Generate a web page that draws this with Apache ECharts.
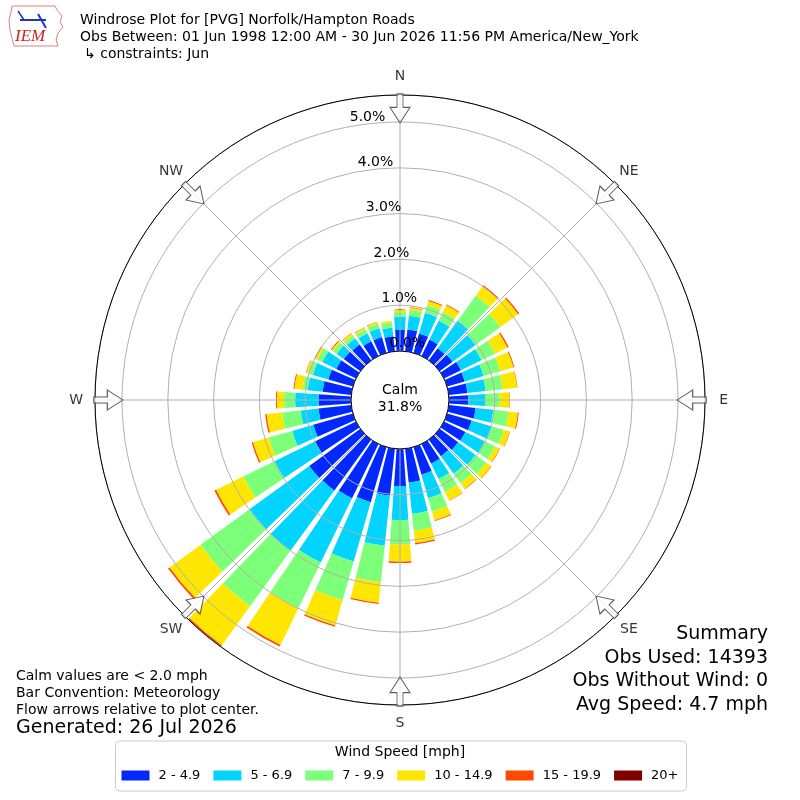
<!DOCTYPE html>
<html>
<head>
<meta charset="utf-8">
<script src="https://cdn.jsdelivr.net/npm/echarts@6/dist/echarts.min.js"></script>
<style>
html, body { margin: 0; padding: 0; background: #fff; }
#chart { width: 800px; height: 800px; }
</style>
</head>
<body>
<div id="chart"></div>
<script>
// wind direction bins (bar centre, degrees from north)
var directions = [0, 10, 20, 30, 40, 50, 60, 70, 80, 90, 100, 110, 120, 130, 140, 150, 160, 170,
  180, 190, 200, 210, 220, 230, 240, 250, 260, 270, 280, 290, 300, 310, 320, 330, 340, 350];

var speedBins = ['2 - 4.9', '5 - 6.9', '7 - 9.9', '10 - 14.9', '15 - 19.9', '20+'];
var binColors = ['#0028ff', '#00d4ff', '#7cff79', '#ffe600', '#ff4a00', '#800000'];

var spd2to5 = [.46, .48, .44, .40, .33, .35, .41, .40, .41, .42, .59, .56, .52, .50, .45, .48, .63, .74,
  .81, 1.03, 1.25, 1.32, 1.37, 1.38, 1.00, .90, .72, .71, .63, .56, .48, .45, .43, .36, .36, .33];
var spd5to7 = [.29, .30, .47, .46, .74, .62, .50, .43, .40, .37, .39, .46, .47, .47, .47, .37, .53, .69,
  .74, 1.10, 1.35, 1.56, 1.63, 1.61, .98, .48, .39, .51, .33, .35, .34, .19, .17, .19, .20, .19];
var spd7to10 = [.10, .13, .17, .21, .68, .67, .33, .38, .37, .32, .33, .27, .25, .29, .26, .31, .31, .37,
  .53, .80, .88, 1.11, 1.50, 1.33, .76, .53, .41, .24, .11, .11, .12, .10, .08, .10, .10, .11];
var spd10to15 = [.05, .05, .10, .16, .25, .48, .30, .30, .32, .21, .21, .13, .11, .13, .15, .21, .19, .27,
  .38, .45, .57, .89, 1.05, .83, .66, .36, .34, .16, .18, .04, .05, .04, .05, .04, .04, .04];
var spd15to20 = [0, .01, .02, .02, .03, .03, .03, .02, .01, .01, .02, .01, .01, .01, .01, .01, .02, .03,
  .03, .03, .03, .04, .04, .04, .04, .03, .03, .02, .02, .01, .02, .02, .01, .01, .01, 0];
var spd20up = [0, 0, 0, 0, 0, 0, 0, 0, 0, 0, 0, 0, 0, 0, 0, 0, 0, 0,
  0, 0, 0, 0, 0, 0, 0, 0, 0, 0, 0, 0, 0, 0, 0, 0, 0, 0];
var binValues = [spd2to5, spd5to7, spd7to10, spd10to15, spd15to20, spd20up];

var compassTicks = [0, 45, 90, 135, 180, 225, 270, 315];
var compassLabels = ['N', 'NE', 'E', 'SE', 'S', 'SW', 'W', 'NW'];
var calmPct = 31.8;
var rMax = 5.59;      // outer ring, percent
var arrowR = 5.3;     // where the flow arrows sit
var labelR = 6.0;     // compass letters, just outside the ring

var FONT = 'DejaVu Sans';
var CENTER = ['50%', '50%'];
var RADIUS = [49, 305];
var ARROW = 'path://M7,0 L13,0 L13,14 L20,14 L10,30 L0,14 L7,14 Z';

var chart = echarts.init(document.getElementById('chart'), null, { renderer: 'canvas' });

var series = speedBins.map(function (name, i) {
  return {
    type: 'bar', name: name, coordinateSystem: 'polar', polarIndex: 0,
    stack: 'wind', data: binValues[i], barCategoryGap: '20%',
    itemStyle: { color: binColors[i] }, z: 2, silent: true
  };
});
// flow arrows
series.push({
  type: 'scatter', coordinateSystem: 'polar', polarIndex: 1, z: 10, silent: true,
  symbol: ARROW, symbolSize: [20, 29],
  itemStyle: { color: '#fff', borderColor: '#333', borderWidth: 1 },
  data: compassTicks.map(function (a) { return { value: [arrowR, a], symbolRotate: -a }; })
});
// compass letters
series.push({
  type: 'scatter', coordinateSystem: 'polar', polarIndex: 1, z: 10, silent: true, clip: false,
  symbolSize: 1, itemStyle: { color: 'rgba(0,0,0,0)' },
  label: {
    show: true, position: 'inside', color: '#000', fontSize: 14, fontFamily: FONT,
    formatter: function (p) { return p.name; }
  },
  data: compassTicks.map(function (a, i) { return { name: compassLabels[i], value: [labelR, a] }; })
});

function txt(text, pos, size) {
  var el = { type: 'text', z: 20, style: { text: text, fill: '#000', font: size + 'px "' + FONT + '"' } };
  for (var k in pos) el[k] = pos[k];
  return el;
}

var option = {
  animation: false,
  textStyle: { fontFamily: FONT },
  polar: [
    { center: CENTER, radius: RADIUS },
    { center: CENTER, radius: RADIUS },
    { center: CENTER, radius: RADIUS }
  ],
  angleAxis: [
    { polarIndex: 0, type: 'category', data: directions, startAngle: 95, clockwise: true, show: false },
    {
      polarIndex: 1, type: 'value', min: 0, max: 360, interval: 45, startAngle: 90, clockwise: true, z: 5,
      axisLine: { lineStyle: { color: '#000', width: 1 } },
      axisTick: { show: false },
      axisLabel: { show: false },
      splitLine: { lineStyle: { color: '#b0b0b0', width: 1 } }
    },
    { polarIndex: 2, type: 'value', min: 0, max: 360, startAngle: 100, show: false }
  ],
  radiusAxis: [
    { polarIndex: 0, min: 0, max: rMax, show: false },
    {
      polarIndex: 1, min: 0, max: rMax, interval: 1, z: 5,
      axisLine: { show: false }, axisTick: { show: false }, axisLabel: { show: false },
      splitLine: { lineStyle: { color: '#b0b0b0', width: 1 } }
    },
    {
      polarIndex: 2, min: 0, max: rMax, interval: 1, z: 6,
      axisLine: { show: false }, axisTick: { show: false }, splitLine: { show: false },
      axisLabel: {
        inside: true, margin: 2, align: 'left', verticalAlign: 'bottom', padding: [0, 0, 2, 0],
        fontSize: 14, color: '#000', fontFamily: FONT,
        formatter: function (v) { return Math.abs(v - Math.round(v)) < 1e-6 ? v.toFixed(1) + '%' : ''; }
      }
    }
  ],
  legend: {
    data: speedBins, left: 'center', top: 741, orient: 'horizontal',
    icon: 'rect', itemWidth: 28, itemHeight: 10, itemGap: 13,
    padding: [28, 8, 9, 6], borderColor: '#cccccc', borderWidth: 1, borderRadius: 4,
    backgroundColor: '#fff',
    textStyle: { fontSize: 13, color: '#000', fontFamily: FONT, padding: [0, 0, 0, 4] }
  },
  graphic: [
    // IEM logo
    {
      type: 'polygon', z: 20, silent: true,
      shape: { points: [[12, 6], [55, 6], [57, 10], [62, 16], [60, 22], [63, 27], [58, 33], [56, 40], [58, 46],
        [14, 46], [12, 38], [10, 30], [9, 20], [11, 12]] },
      style: { fill: 'none', stroke: '#e08080', lineWidth: 1 }
    },
    { type: 'line', z: 20, shape: { x1: 20, y1: 20, x2: 46, y2: 20 }, style: { stroke: '#2233cc', lineWidth: 2 } },
    { type: 'line', z: 20, shape: { x1: 18, y1: 11, x2: 24, y2: 20 }, style: { stroke: '#2233cc', lineWidth: 1.5 } },
    { type: 'line', z: 20, shape: { x1: 38, y1: 14, x2: 46, y2: 28 }, style: { stroke: '#2233cc', lineWidth: 2 } },
    { type: 'text', z: 20, left: 15, top: 28, style: { text: 'IEM', fill: '#d42020', font: 'italic 17px "Liberation Serif"' } },
    // header
    txt('Windrose Plot for [PVG] Norfolk/Hampton Roads', { left: 80, top: 13 }, 14),
    txt('Obs Between: 01 Jun 1998 12:00 AM - 30 Jun 2026 11:56 PM America/New_York', { left: 80, top: 30 }, 14),
    txt('\u21b3 constraints: Jun', { left: 84, top: 47 }, 14),
    // calm
    txt('Calm', { left: 'center', top: 383 }, 14),
    txt(calmPct.toFixed(1) + '%', { left: 'center', top: 400 }, 14),
    // notes
    txt('Calm values are < 2.0 mph', { left: 16, top: 669 }, 14),
    txt('Bar Convention: Meteorology', { left: 16, top: 686 }, 14),
    txt('Flow arrows relative to plot center.', { left: 16, top: 703 }, 14),
    txt('Generated: 26 Jul 2026', { left: 16, top: 719 }, 19),
    // summary
    txt('Summary', { right: 32, top: 625 }, 19),
    txt('Obs Used: 14393', { right: 32, top: 649 }, 19),
    txt('Obs Without Wind: 0', { right: 32, top: 672 }, 19),
    txt('Avg Speed: 4.7 mph', { right: 32, top: 696 }, 19),
    // legend title
    txt('Wind Speed [mph]', { left: 'center', top: 745 }, 14)
  ],
  series: series
};

chart.setOption(option);
</script>
</body>
</html>
